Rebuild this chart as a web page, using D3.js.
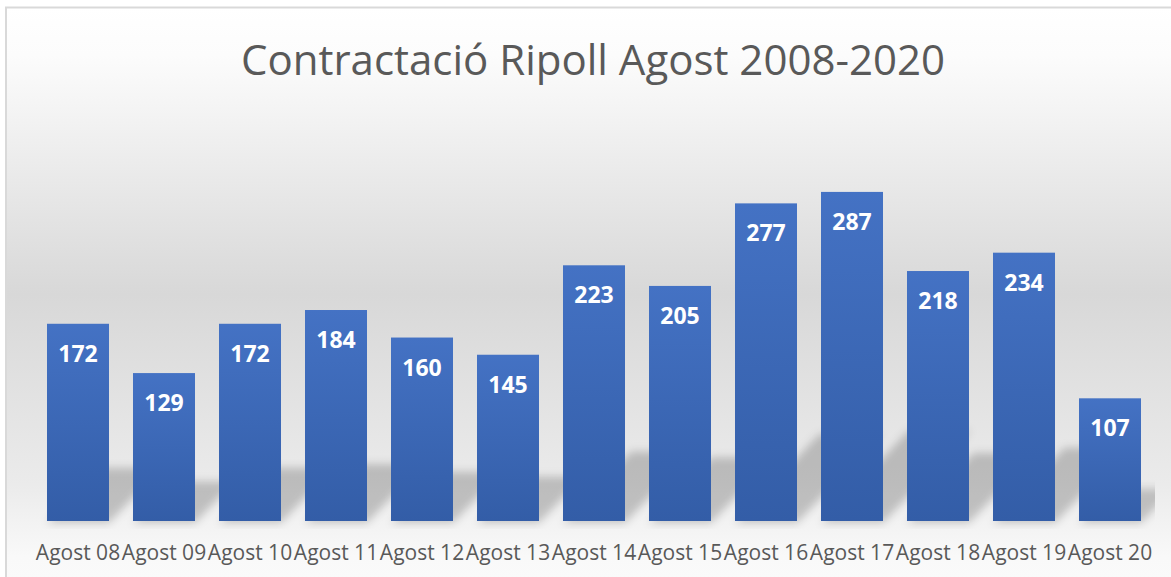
<!DOCTYPE html>
<html>
<head>
<meta charset="utf-8">
<script src="https://cdn.jsdelivr.net/npm/d3@7"></script>
<style>
  body { margin: 0; background: #fff; }
  svg { display: block; }
</style>
</head>
<body>
<svg id="chart" width="1171" height="577"></svg>
<script>
// data
var months = ["Agost 08", "Agost 09", "Agost 10", "Agost 11", "Agost 12", "Agost 13", "Agost 14",
              "Agost 15", "Agost 16", "Agost 17", "Agost 18", "Agost 19", "Agost 20"];
var contracts = [172, 129, 172, 184, 160, 145, 223, 205, 277, 287, 218, 234, 107];
var titleText = "Contractació Ripoll Agost 2008-2020";

var svg = d3.select("#chart"),
    width = +svg.attr("width"),
    height = +svg.attr("height"),
    plot = {left: 35, right: 1153, top: 177, bottom: 521};

var defs = svg.append("defs");

// chart area background: white -> gray -> nearly white
var bg = defs.append("linearGradient")
    .attr("id", "bgGrad")
    .attr("x1", 0).attr("y1", 0).attr("x2", 0).attr("y2", 1);
bg.append("stop").attr("offset", "0%").attr("stop-color", "#ffffff");
bg.append("stop").attr("offset", "8%").attr("stop-color", "#fcfcfc");
bg.append("stop").attr("offset", "48%").attr("stop-color", "#d8d8d8");
bg.append("stop").attr("offset", "80%").attr("stop-color", "#ebebeb");
bg.append("stop").attr("offset", "92%").attr("stop-color", "#f9f9f9");
bg.append("stop").attr("offset", "100%").attr("stop-color", "#fbfbfb");

// bar fill
var barGrad = defs.append("linearGradient")
    .attr("id", "barGrad")
    .attr("x1", 0).attr("y1", 0).attr("x2", 0).attr("y2", 1);
barGrad.append("stop").attr("offset", "0%").attr("stop-color", "#4472c4");
barGrad.append("stop").attr("offset", "100%").attr("stop-color", "#335da7");

var blur = defs.append("filter")
    .attr("id", "shadowBlur")
    .attr("x", "-50%").attr("y", "-50%").attr("width", "200%").attr("height", "200%");
blur.append("feGaussianBlur").attr("stdDeviation", 4);

defs.append("clipPath").attr("id", "plotClip")
  .append("rect")
    .attr("x", plot.left - 2)
    .attr("y", 0)
    .attr("width", plot.right - plot.left + 4)
    .attr("height", plot.bottom + 8);

svg.append("rect")
    .attr("x", 6)
    .attr("y", 7.5)
    .attr("width", width + 20)
    .attr("height", height + 20)
    .attr("fill", "url(#bgGrad)")
    .attr("stroke", "#d9d9d9")
    .attr("stroke-width", 2);

var x = d3.scaleBand()
    .domain(months)
    .range([plot.left, plot.right])
    .paddingInner(0.279)
    .paddingOuter(0.1395);

var y = d3.scaleLinear()
    .domain([0, 300])
    .range([plot.bottom, plot.top]);

var data = months.map(function(m, i) { return {month: m, value: contracts[i]}; });

// perspective shadow behind the bars
svg.append("g")
    .attr("clip-path", "url(#plotClip)")
  .append("g")
    .attr("filter", "url(#shadowBlur)")
    .selectAll("path")
    .data(data)
    .enter()
    .append("path")
    .attr("fill", "#000")
    .attr("fill-opacity", 0.2)
    .attr("d", function(d) {
        var x0 = x(d.month), w = x.bandwidth();
        var h = (y(0) - y(d.value)) * 0.28;
        var dx = h * 0.95;
        var b = y(0) + 2;
        return "M" + x0 + "," + b +
               "L" + (x0 + w) + "," + b +
               "L" + (x0 + w + dx) + "," + (b - h) +
               "L" + (x0 + dx) + "," + (b - h) + "Z";
    });

svg.append("g")
    .selectAll(".bar")
    .data(data)
    .enter()
    .append("rect")
    .attr("class", "bar")
    .attr("x", function(d) { return x(d.month); })
    .attr("y", function(d) { return y(d.value); })
    .attr("width", x.bandwidth())
    .attr("height", function(d) { return y(0) - y(d.value); })
    .attr("fill", "url(#barGrad)");

svg.append("g")
    .selectAll(".value")
    .data(data)
    .enter()
    .append("text")
    .attr("class", "value")
    .attr("x", function(d) { return x(d.month) + x.bandwidth() / 2; })
    .attr("y", function(d) { return y(d.value) + 38; })
    .attr("text-anchor", "middle")
    .attr("font-family", "'Open Sans', sans-serif")
    .attr("font-weight", "bold")
    .attr("font-size", "23px")
    .attr("fill", "#ffffff")
    .text(function(d) { return d.value; });

// category axis, labels only
var xAxis = svg.append("g")
    .attr("transform", "translate(0," + plot.bottom + ")")
    .call(d3.axisBottom(x).tickSize(0).tickPadding(0));
xAxis.select(".domain").remove();
xAxis.selectAll("text")
    .attr("y", 38.5)
    .attr("dy", null)
    .attr("font-family", "'Open Sans', sans-serif")
    .attr("font-size", "21px")
    .attr("fill", "#595959");

svg.append("text")
    .attr("x", 593)
    .attr("y", 75)
    .attr("text-anchor", "middle")
    .attr("font-family", "'Open Sans', sans-serif")
    .attr("font-size", "42px")
    .attr("fill", "#595959")
    .text(titleText);
</script>
</body>
</html>
